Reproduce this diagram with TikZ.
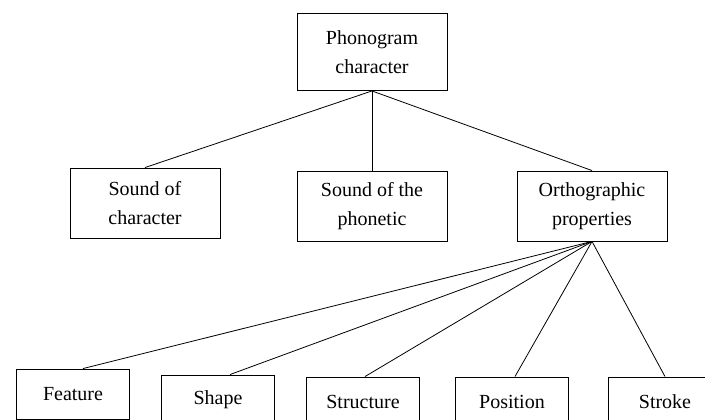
\documentclass[tikz,border=0pt]{standalone}
\usepackage{fontspec}
\setmainfont{Liberation Serif}
\usepackage{tikz}
\usepackage{xcolor}
\usetikzlibrary{positioning}
\tikzstyle{every node}=[font=\fontsize{20}{29}\selectfont]
\tikzstyle{block} = [rectangle, draw, line width=0.9pt, align=center, inner sep=0pt, minimum width=150pt, minimum height=70pt]
\tikzstyle{leaf} = [block, minimum width=113pt, minimum height=50pt]
\tikzstyle{line} = [draw, line width=0.8pt]

\begin{document}
\begin{tikzpicture}
    \useasboundingbox (0pt,0pt) rectangle (705pt,-420pt);
    % Place nodes
    \node [block, minimum height=77pt] (phono) at (372pt,-52pt) {Phonogram\\character};
    \node [block, below of=phono, node distance=154pt] (sndphon) {Sound of the\\phonetic};
    \node [block, left of=sndphon, node distance=227pt, yshift=3pt] (sndchar) {Sound of\\character};
    \node [block, right of=sndphon, node distance=220pt] (ortho) {Orthographic\\properties};
    \node [leaf, below of=sndphon, node distance=196pt, xshift=-9pt] (structure) {Structure};
    \node [leaf, left of=structure, node distance=145pt, yshift=2pt] (shape) {Shape};
    \node [leaf, left of=shape, node distance=145pt, yshift=6pt] (feature) {Feature};
    \node [leaf, right of=structure, node distance=149pt] (position) {Position};
    \node [leaf, right of=position, node distance=153pt] (stroke) {Stroke};
    % Draw edges
    \path [line] (phono.south) -- (sndchar.north);
    \path [line] (phono.south) -- (sndphon.north);
    \path [line] (phono.south) -- (ortho.north);
    \path [line] (ortho.south) -- ([xshift=10pt]feature.north);
    \path [line] (ortho.south) -- ([xshift=12pt]shape.north);
    \path [line] (ortho.south) -- ([xshift=2pt]structure.north);
    \path [line] (ortho.south) -- ([xshift=3pt]position.north);
    \path [line] (ortho.south) -- (stroke.north);
\end{tikzpicture}
\end{document}
